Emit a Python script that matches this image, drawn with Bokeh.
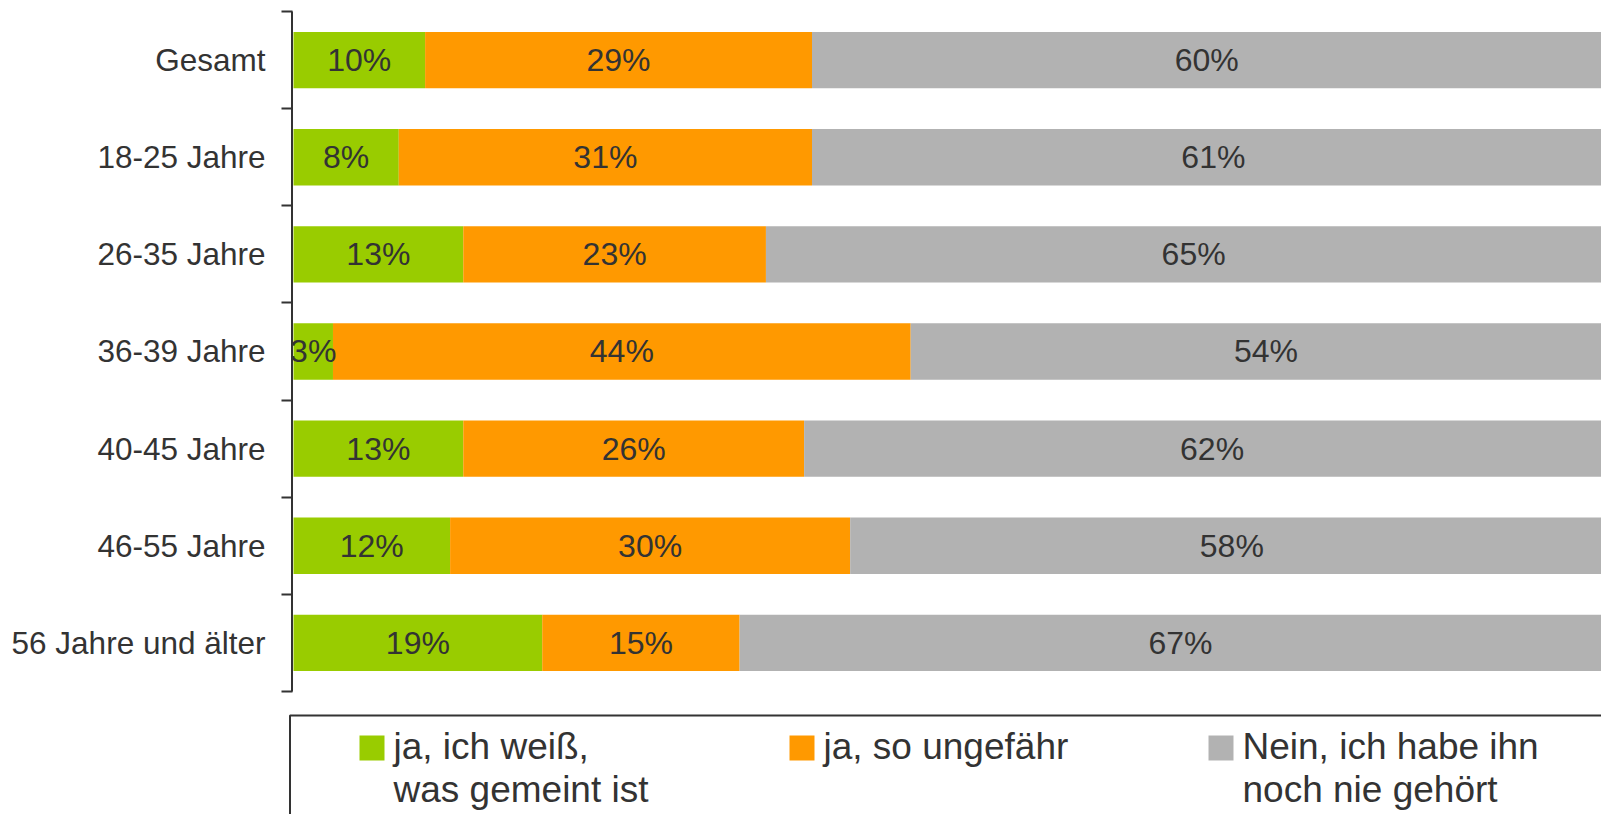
from bokeh.plotting import figure
from bokeh.models import Range1d, FixedTicker, ColumnDataSource
from bokeh.core.properties import value
from bokeh.embed import file_html
from bokeh.resources import INLINE

# ---------------- data ----------------
categories = ["Gesamt", "18-25 Jahre", "26-35 Jahre", "36-39 Jahre",
              "40-45 Jahre", "46-55 Jahre", "56 Jahre und älter"]
known = [10.0, 8.0, 12.9, 3.0, 12.9, 11.9, 18.9]      # ja, ich weiß, was gemeint ist
approx = [29.4, 31.4, 23.0, 43.9, 25.9, 30.4, 15.0]   # ja, so ungefähr
never = [60, 61, 65, 54, 62, 58, 67]                  # Nein, ich habe ihn noch nie gehört
series_labels = [["ja, ich weiß,", "was gemeint ist"],
                 ["ja, so ungefähr"],
                 ["Nein, ich habe ihn", "noch nie gehört"]]
colors = ["#99CC00", "#FF9900", "#B2B2B2"]

# ---------------- layout constants (page pixels) ----------------
FIG_W, FIG_H = 1601, 814
PAGE_OFF = 0
FRAME_L, FRAME_R, FRAME_T, FRAME_B = 288, 1601, 10, 814
ZERO_PX = 293          # where 0 % sits
PX_PER_PCT = 13.16
TOP_PX = 11            # upper edge of first category band
PX_PER_CAT = 97.14
FONT = value("Liberation Sans")
TXT = "#333333"


def X(px):
    return (px - ZERO_PX) / PX_PER_PCT


def Y(py):
    return -0.5 + (py - TOP_PX) / PX_PER_CAT


n = len(categories)
ys = list(range(n))
src = ColumnDataSource(dict(y=ys, known=known, approx=approx, never=never))

p = figure(width=FIG_W, height=FIG_H, output_backend="svg", toolbar_location=None,
           x_range=Range1d(X(FRAME_L), X(FRAME_R)),
           y_range=Range1d(Y(FRAME_B), Y(FRAME_T)),
           x_axis_location=None, title=None,
           min_border_left=FRAME_L - PAGE_OFF, min_border_right=0,
           min_border_top=FRAME_T - PAGE_OFF, min_border_bottom=0)
p.outline_line_color = None
p.grid.visible = False
p.background_fill_color = "white"
p.border_fill_color = "white"

p.hbar_stack(["known", "approx", "never"], y="y", height=0.58, color=colors,
             line_color=None, source=src)

# segment labels
lx, ly, lt = [], [], []
for i in range(n):
    segs = [known[i], approx[i], never[i]]
    start = 0.0
    for v in segs:
        lx.append(start + v / 2)
        ly.append(ys[i])
        lt.append(f"{round(v)}%")
        start += v
p.text(x=lx, y=ly, text=lt, text_align="center", text_baseline="middle",
       text_font=FONT, text_font_size="32px", text_color=TXT)

# y axis
ax = p.yaxis[0]
ax.ticker = FixedTicker(ticks=ys, minor_ticks=[i - 0.5 for i in range(n + 1)])
ax.major_label_overrides = {i: c for i, c in enumerate(categories)}
ax.axis_line_color = None
ax.major_tick_line_color = None
ax.major_tick_out = 0
ax.major_tick_in = 0
ax.minor_tick_line_color = "#333333"
ax.minor_tick_line_width = 2
ax.minor_tick_out = 7
ax.minor_tick_in = 4
ax.major_label_standoff = 16
ax.major_label_text_font = "Liberation Sans"
ax.major_label_text_font_size = "31.5px"
ax.major_label_text_color = TXT

# axis line
p.segment(x0=[X(291.5)], y0=[-0.5], x1=[X(291.5)], y1=[n - 0.5],
          line_color="#333333", line_width=2)

# legend (drawn manually)
p.quad(left=[X(289.5)], right=[X(1700)], top=[Y(715)], bottom=[Y(900)],
       fill_color=None, line_color="#333333", line_width=2)
sq_left = [359, 789, 1208]
p.quad(left=[X(v) for v in sq_left], right=[X(v + 25) for v in sq_left],
       top=[Y(735)] * 3, bottom=[Y(760)] * 3, color=colors, line_color=None)
tx, ty, tt = [], [], []
for v, lines in zip(sq_left, series_labels):
    for j, line in enumerate(lines):
        tx.append(X(v + 34))
        ty.append(Y(746 + 43 * j))
        tt.append(line)
p.text(x=tx, y=ty, text=tt, text_align="left", text_baseline="middle",
       text_font=FONT, text_font_size="37px", text_color=TXT)

open("out.html", "w").write(file_html(p, INLINE))
